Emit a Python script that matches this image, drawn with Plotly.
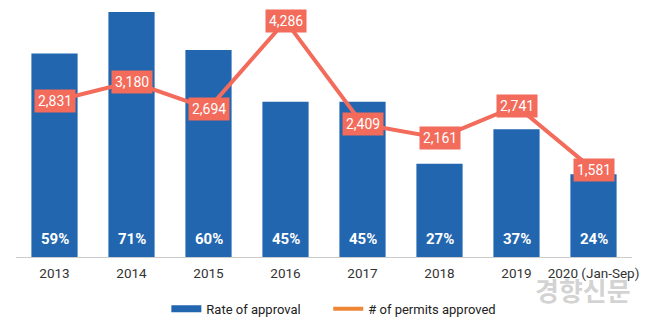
import plotly.graph_objects as go

years = ["2013", "2014", "2015", "2016", "2017", "2018", "2019", "2020 (Jan-Sep)"]
rate = [59, 71, 60, 45, 45, 27, 37, 24]
permits = [2831, 3180, 2694, 4286, 2409, 2161, 2741, 1581]

BLUE = "#2266AF"
CORAL = "#F26B5B"
ORANGE = "#EF8636"
FONT = "Roboto"
GAP = "\u00a0" * 7

fig = go.Figure()
fig.add_trace(go.Bar(x=years, y=rate, marker=dict(color=BLUE, line=dict(width=0)),
                     showlegend=False, yaxis="y", hoverinfo="skip"))
fig.add_trace(go.Scatter(x=years, y=permits, mode="lines", line=dict(color=CORAL, width=4),
                         showlegend=False, yaxis="y2", hoverinfo="skip"))
# legend entries
fig.add_trace(go.Scatter(x=[None], y=[None], mode="lines", name="Rate of approval" + GAP,
                         line=dict(color=BLUE, width=7), yaxis="y"))
fig.add_trace(go.Scatter(x=[None], y=[None], mode="lines", name="# of permits approved",
                         line=dict(color=ORANGE, width=4), yaxis="y"))

annotations = []
for i, r in enumerate(rate):
    annotations.append(dict(x=i, y=0, xref="x", yref="y", text=f"{r}%", showarrow=False,
                            yanchor="middle", yshift=18,
                            font=dict(family=FONT, size=15, color="white", weight="bold")))
for i, p in enumerate(permits):
    annotations.append(dict(x=i, y=p, xref="x", yref="y2", text=f"{p:,}", showarrow=False,
                            yanchor="middle", xanchor="center", bgcolor=CORAL, borderpad=3,
                            font=dict(family=FONT, size=14, color="white")))
annotations.append(dict(x=0.92, y=-0.128, xref="paper", yref="paper", text="<b>경향신문</b>",
                        xanchor="center", yanchor="middle",
                        showarrow=False, font=dict(family="Noto Sans CJK KR", size=26,
                                                   color="rgba(140,140,140,0.4)")))

fig.update_layout(
    width=658, height=327,
    margin=dict(l=16, r=26, t=0, b=70),
    paper_bgcolor="white", plot_bgcolor="white",
    bargap=0.4,
    font=dict(family=FONT, size=13, color="#222"),
    xaxis=dict(type="category", categoryorder="array", categoryarray=years,
               range=[-0.5, len(years) - 0.5],
               showgrid=False, showline=True, linecolor="#cccccc", linewidth=1,
               ticks="", ticklabelstandoff=4,
               tickfont=dict(family=FONT, size=13.5, color="#333")),
    yaxis=dict(range=[0, 74.5], visible=False, showgrid=False),
    yaxis2=dict(range=[0, 4664], overlaying="y", visible=False, showgrid=False),
    legend=dict(orientation="h", x=0.516, xanchor="center", y=-0.202, yanchor="middle",
                font=dict(family=FONT, size=13, color="#222")),
    annotations=annotations,
    showlegend=True,
)

fig.write_html("out.html")
